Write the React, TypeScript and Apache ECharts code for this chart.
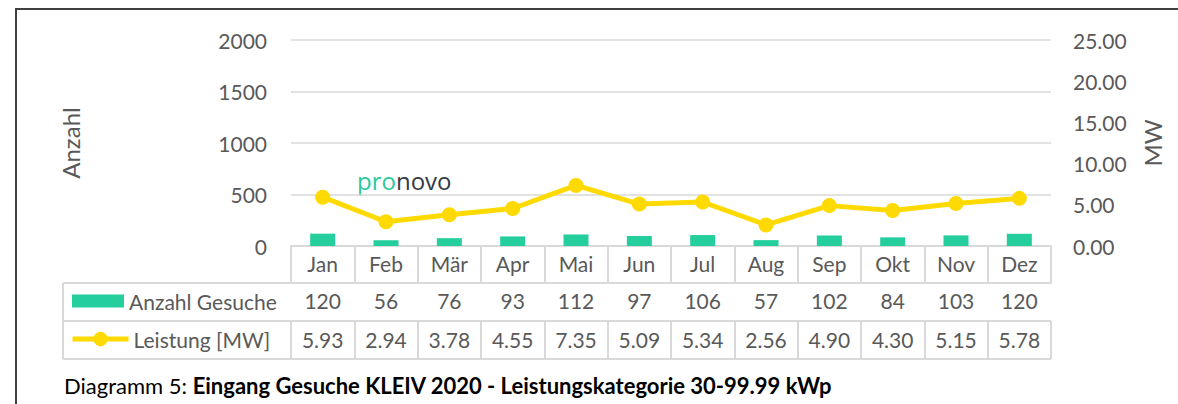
import React, { useEffect, useRef } from "react";
import * as echarts from "echarts";

const months = ["Jan", "Feb", "Mär", "Apr", "Mai", "Jun", "Jul", "Aug", "Sep", "Okt", "Nov", "Dez"];
const anzahlGesuche = [120, 56, 76, 93, 112, 97, 106, 57, 102, 84, 103, 120];
const leistungMW = [5.93, 2.94, 3.78, 4.55, 7.35, 5.09, 5.34, 2.56, 4.9, 4.3, 5.15, 5.78];
const leftAxis = { min: 0, max: 2000, interval: 500 };
const rightAxis = { min: 0, max: 25, interval: 5 };
const seriesNames = ["Anzahl Gesuche", "Leistung [MW]"];

const FONT = "Lato";
const TXT = "#595959";
const GRIDC = "#d9d9d9";
const TEAL = "#25CE9D";
const YELLOW = "#FFDA00";

const GL = 291;
const GR = 1051;
const GT = 40;
const GB = 246;
const ROW1 = 283;
const ROW2 = 321;
const ROW3 = 359;
const TL = 63;

export default function App() {
  const ref = useRef<HTMLDivElement>(null);
  useEffect(() => {
    if (!ref.current) return;
    const chart = echarts.init(ref.current, null, { renderer: "svg" });
    const labelBase = { fontFamily: FONT, fontSize: 21, color: TXT, lineHeight: 24, interval: 0 };
    const tickBase = (len: number) => ({
      show: true,
      interval: 0,
      length: len,
      lineStyle: { color: GRIDC, width: 2 },
    });
    const hLine = (y: number) => ({
      type: "line",
      shape: { x1: TL, y1: y, x2: GR, y2: y },
      style: { stroke: GRIDC, lineWidth: 2 },
      silent: true,
    });
    chart.setOption({
      animation: false,
      grid: { left: GL, right: 1178 - GR, top: GT, bottom: 404 - GB, containLabel: false },
      xAxis: [
        {
          type: "category",
          data: months,
          position: "bottom",
          axisLine: { show: true, lineStyle: { color: GRIDC, width: 2 } },
          axisTick: tickBase(ROW1 - GB),
          axisLabel: { ...labelBase, margin: 5 },
        },
        {
          type: "category",
          data: months,
          position: "bottom",
          offset: ROW1 - GB,
          axisLine: { show: false },
          axisTick: tickBase(ROW2 - ROW1),
          axisLabel: { ...labelBase, margin: 5, formatter: (_v: string, i: number) => String(anzahlGesuche[i]) },
        },
        {
          type: "category",
          data: months,
          position: "bottom",
          offset: ROW2 - GB,
          axisLine: { show: false },
          axisTick: tickBase(ROW3 - ROW2),
          axisLabel: { ...labelBase, margin: 6, formatter: (_v: string, i: number) => leistungMW[i].toFixed(2) },
        },
      ],
      yAxis: [
        {
          type: "value",
          ...leftAxis,
          position: "left",
          axisLine: { show: false },
          axisTick: { show: false },
          splitLine: { show: true, lineStyle: { color: GRIDC, width: 1.5 } },
          axisLabel: { fontFamily: FONT, fontSize: 21, color: TXT, margin: 24, formatter: (v: number) => String(v) },
        },
        {
          type: "value",
          ...rightAxis,
          position: "right",
          axisLine: { show: false },
          axisTick: { show: false },
          splitLine: { show: false },
          axisLabel: { fontFamily: FONT, fontSize: 21, color: TXT, margin: 22, formatter: (v: number) => v.toFixed(2) },
        },
      ],
      legend: [
        {
          data: [{ name: seriesNames[0], icon: "rect" }],
          left: 72,
          top: 289,
          padding: 0,
          itemWidth: 52,
          itemHeight: 13,
          selectedMode: false,
          textStyle: { fontFamily: FONT, fontSize: 21, color: TXT, lineHeight: 24 },
        },
        {
          data: [seriesNames[1]],
          left: 70,
          top: 325,
          padding: 0,
          itemWidth: 56,
          itemHeight: 18,
          selectedMode: false,
          lineStyle: { width: 5, color: YELLOW },
          itemStyle: { color: YELLOW },
          textStyle: { fontFamily: FONT, fontSize: 21, color: TXT, lineHeight: 28 },
        },
      ],
      series: [
        {
          name: seriesNames[0],
          type: "bar",
          data: anzahlGesuche,
          xAxisIndex: 0,
          yAxisIndex: 0,
          barWidth: 25,
          itemStyle: { color: TEAL },
        },
        {
          name: seriesNames[1],
          type: "line",
          data: leistungMW,
          xAxisIndex: 0,
          yAxisIndex: 1,
          symbol: "circle",
          symbolSize: 15,
          lineStyle: { color: YELLOW, width: 5 },
          itemStyle: { color: YELLOW },
        },
      ],
      graphic: [
        hLine(ROW1),
        hLine(ROW2),
        hLine(ROW3),
        {
          type: "line",
          shape: { x1: TL, y1: ROW1, x2: TL, y2: ROW3 },
          style: { stroke: GRIDC, lineWidth: 2 },
          silent: true,
        },
        {
          type: "line",
          shape: { x1: 16, y1: 9, x2: 1178, y2: 9 },
          style: { stroke: "#404040", lineWidth: 2 },
          silent: true,
        },
        {
          type: "line",
          shape: { x1: 16, y1: 8, x2: 16, y2: 404 },
          style: { stroke: "#404040", lineWidth: 2 },
          silent: true,
        },
        {
          type: "text",
          x: 70,
          y: 143,
          rotation: Math.PI / 2,
          style: { text: "Anzahl", fontFamily: FONT, fontSize: 24, fill: TXT, align: "center", verticalAlign: "middle" },
        },
        {
          type: "text",
          x: 1152,
          y: 143,
          rotation: Math.PI / 2,
          style: { text: "MW", fontFamily: FONT, fontSize: 24, fill: TXT, align: "center", verticalAlign: "middle" },
        },
        {
          type: "text",
          x: 357,
          y: 180,
          style: {
            text: "{a|pro}{b|novo}",
            verticalAlign: "middle",
            rich: {
              a: { fontFamily: "Open Sans", fontSize: 24, fill: "#2CC99A", color: "#2CC99A" },
              b: { fontFamily: "Open Sans", fontSize: 24, fill: "#333B45", color: "#333B45" },
            },
          },
        },
        {
          type: "text",
          x: 64,
          y: 385,
          style: {
            text: "{n|Diagramm 5: }{b|Eingang Gesuche KLEIV 2020 - Leistungskategorie 30-99.99 kWp}",
            verticalAlign: "middle",
            rich: {
              n: { fontFamily: FONT, fontSize: 22, color: "#000", fill: "#000" },
              b: { fontFamily: FONT, fontSize: 22, fontWeight: "bold", color: "#000", fill: "#000" },
            },
          },
        },
      ],
    });
    return () => chart.dispose();
  }, []);
  return (
    <div
      ref={ref}
      style={{ position: "absolute", left: 0, top: 0, width: 1178, height: 404, background: "#fff" }}
    />
  );
}
